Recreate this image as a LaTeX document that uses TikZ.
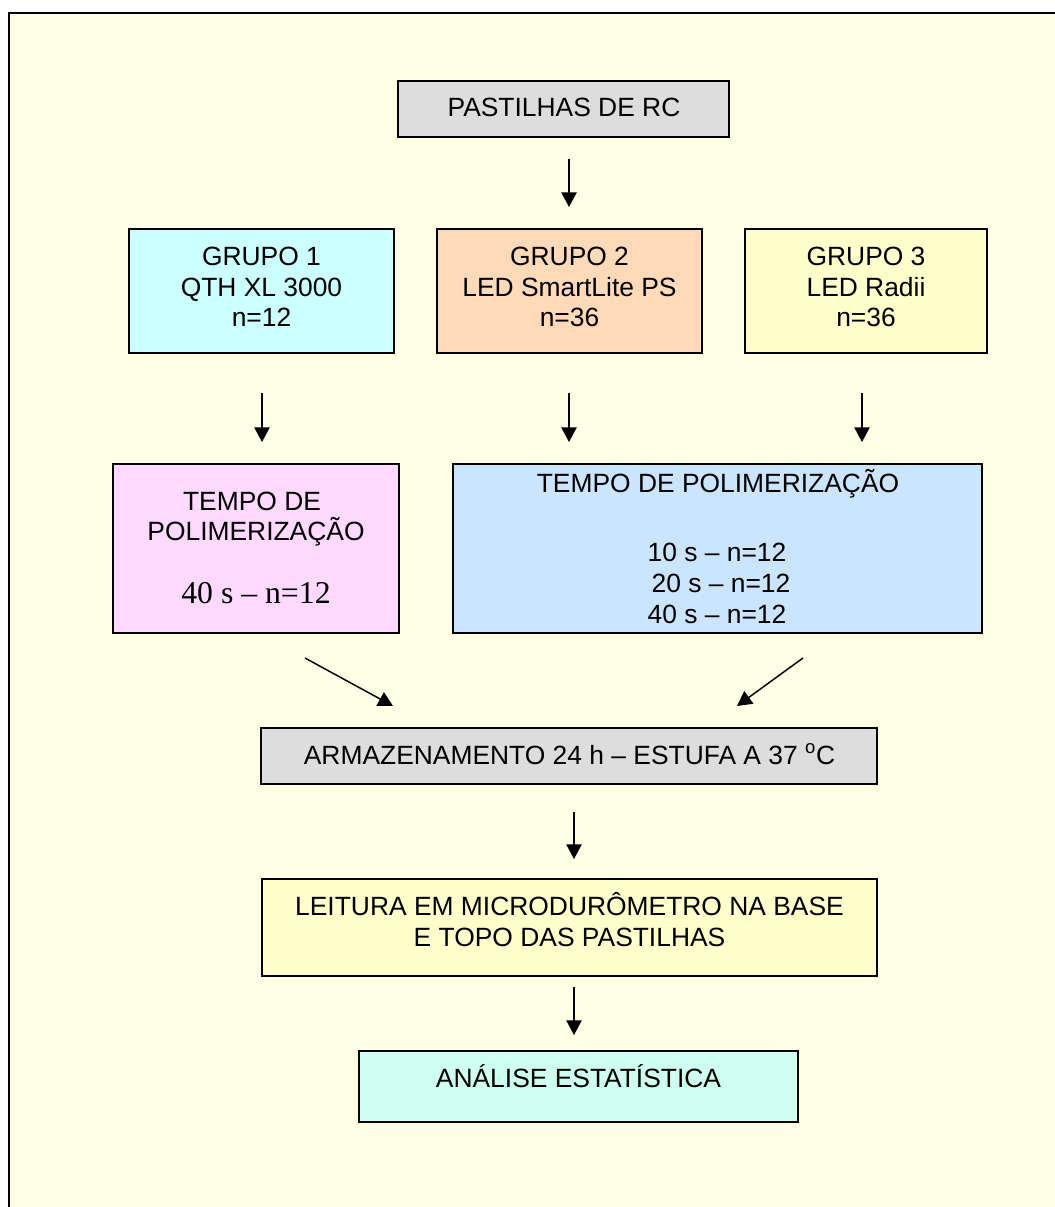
\documentclass[tikz,border=0pt]{standalone}
\usepackage{fontspec}
\setmainfont{Liberation Sans}
\newfontfamily\tnrfont{Liberation Serif}
\usetikzlibrary{arrows.meta,fit}
\definecolor{bgyellow}{RGB}{255,255,230}
\definecolor{boxgray}{RGB}{221,221,221}
\definecolor{gcyan}{RGB}{204,255,255}
\definecolor{gpeach}{RGB}{255,218,185}
\definecolor{gyellow}{RGB}{255,255,204}
\definecolor{gpink}{RGB}{255,217,255}
\definecolor{gblue}{RGB}{204,229,255}
\definecolor{gmint}{RGB}{206,255,240}
\begin{document}
\begin{tikzpicture}[x=0.75pt,y=-0.75pt,
  box/.style={draw=black, line width=1.2pt, inner sep=0pt, outer sep=0pt},
  txt/.style={anchor=base, inner sep=0pt, font=\fontsize{19.8}{23}\selectfont},
  serif/.style={anchor=base, inner sep=0pt, font=\tnrfont\fontsize{23.8}{28}\selectfont},
  arr/.style={-{Triangle[length=11pt,width=11.5pt]}, line width=1.1pt}]
\useasboundingbox (0,0) rectangle (1055,1207);
\fill[white] (0,0) rectangle (1055,1207);
\fill[bgyellow] (9,13) rectangle (1055,1207);
\draw[line width=1pt] (9,1207) -- (9,13) -- (1055,13);

% boxes
\node[box, fill=boxgray, fit={(398,81) (729,137)}] (p) {};
\node[box, fill=gcyan, fit={(129,229) (394,353)}] (g1) {};
\node[box, fill=gpeach, fit={(437,229) (702,353)}] (g2) {};
\node[box, fill=gyellow, fit={(745,229) (987,353)}] (g3) {};
\node[box, fill=gpink, fit={(113,464) (399,633)}] (t1) {};
\node[box, fill=gblue, fit={(453,464) (982,633)}] (t2) {};
\node[box, fill=boxgray, fit={(261,728) (877,784)}] (arm) {};
\node[box, fill=gyellow, fit={(262,879) (877,976)}] (lei) {};
\node[box, fill=gmint, fit={(359,1051) (798,1122)}] (ana) {};

% texts
\node[txt] (pt) at (564,116) {PASTILHAS DE RC};
\node[txt] (g1a) at (261.5,265) {GRUPO 1};
\node[txt] (g1b) at (261.5,296) {QTH XL 3000};
\node[txt] (g1c) at (261.5,326) {n=12};
\node[txt] (g2a) at (569.5,265) {GRUPO 2};
\node[txt] (g2b) at (569.5,296) {LED SmartLite PS};
\node[txt] (g2c) at (569.5,326) {n=36};
\node[txt] (g3a) at (866,265) {GRUPO 3};
\node[txt] (g3b) at (866,296) {LED Radii};
\node[txt] (g3c) at (866,326) {n=36};
\node[txt] (t1a) at (252,510) {TEMPO DE};
\node[txt] (t1b) at (256,540) {POLIMERIZAÇÃO};
\node[serif] (t1c) at (256,603) {40 s – n=12};
\node[txt] (t2a) at (718,492) {TEMPO DE POLIMERIZAÇÃO};
\node[txt] (t2b) at (717,561) {10 s – n=12};
\node[txt] (t2c) at (721,592) {20 s – n=12};
\node[txt] (t2d) at (717,623) {40 s – n=12};
\node[txt] (armt) at (569.5,764) {ARMAZENAMENTO 24 h – ESTUFA A 37 \textsuperscript{o}C};
\node[txt] (leia) at (569.5,915) {LEITURA EM MICRODURÔMETRO NA BASE};
\node[txt] (leib) at (569.5,946) {E TOPO DAS PASTILHAS};
\node[txt] (anat) at (578.5,1087) {ANÁLISE ESTATÍSTICA};

% arrow end points
\coordinate (a1s) at (569,159);  \coordinate (a1e) at (569,207);
\coordinate (b1s) at (262,393);  \coordinate (b1e) at (262,442);
\coordinate (b2s) at (569,393);  \coordinate (b2e) at (569,442);
\coordinate (b3s) at (862,393);  \coordinate (b3e) at (862,442);
\coordinate (c1s) at (305,658);  \coordinate (c1e) at (393,706);
\coordinate (c2s) at (803,658);  \coordinate (c2e) at (737,706);
\coordinate (d1s) at (574,812);  \coordinate (d1e) at (574,859);
\coordinate (d2s) at (574,987);  \coordinate (d2e) at (574,1035);

\draw[arr] (a1s) -- (a1e);
\draw[arr] (b1s) -- (b1e);
\draw[arr] (b2s) -- (b2e);
\draw[arr] (b3s) -- (b3e);
\draw[arr] (c1s) -- (c1e);
\draw[arr] (c2s) -- (c2e);
\draw[arr] (d1s) -- (d1e);
\draw[arr] (d2s) -- (d2e);
\end{tikzpicture}
\end{document}
